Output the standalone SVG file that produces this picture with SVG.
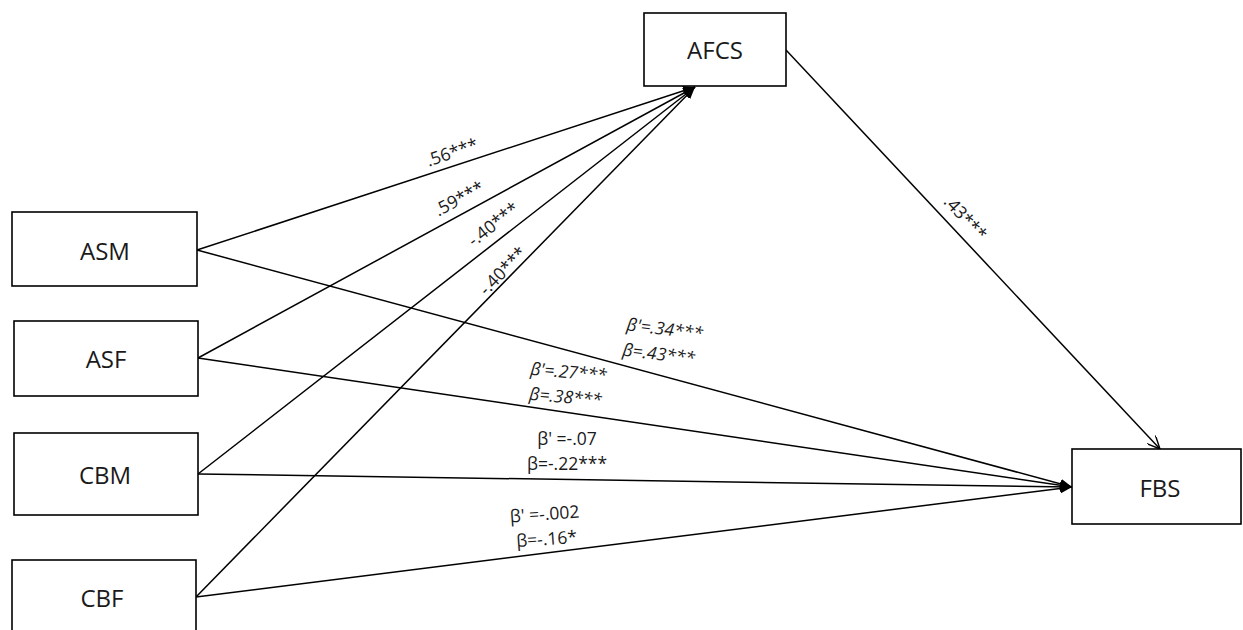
<svg xmlns="http://www.w3.org/2000/svg" width="1243" height="630" viewBox="0 0 1243 630">
<style>
.box{fill:#fff;stroke:#000;stroke-width:1.6}
.lbl{font-family:"Open Sans","Liberation Sans",sans-serif;font-size:24px;fill:#1a1a1a;text-anchor:middle}
.edge{stroke:#000;stroke-width:1.5;fill:none}
.el{font-family:"Open Sans","Liberation Sans",sans-serif;font-size:17.5px;fill:#1a1a1a;text-anchor:middle}
.it{font-style:italic}
</style>
<defs>
<marker id="fa" viewBox="0 0 12 10" refX="12" refY="5" markerWidth="12" markerHeight="10" markerUnits="userSpaceOnUse" orient="auto">
<path d="M0,0 L12,5 L0,10 Z" fill="#000"/>
</marker>
<marker id="oa" viewBox="0 0 14 12" refX="13" refY="6" markerWidth="14" markerHeight="12" markerUnits="userSpaceOnUse" orient="auto">
<path d="M0,0 L13,6 L0,12" fill="none" stroke="#000" stroke-width="1.4"/>
</marker>
</defs>
<rect width="1243" height="630" fill="#fff"/>
<g id="connectors">
<line class="edge" x1="197" y1="250" x2="695" y2="87" marker-end="url(#fa)"/>
<line class="edge" x1="198" y1="358" x2="695" y2="87" marker-end="url(#fa)"/>
<line class="edge" x1="198" y1="474" x2="695" y2="87" marker-end="url(#fa)"/>
<line class="edge" x1="196" y1="597" x2="695" y2="87" marker-end="url(#fa)"/>
<line class="edge" x1="197" y1="250" x2="1072" y2="487" marker-end="url(#fa)"/>
<line class="edge" x1="198" y1="358" x2="1072" y2="487" marker-end="url(#fa)"/>
<line class="edge" x1="198" y1="474" x2="1072" y2="487" marker-end="url(#fa)"/>
<line class="edge" x1="196" y1="597" x2="1072" y2="487" marker-end="url(#fa)"/>
<line class="edge" x1="786" y1="50" x2="1160" y2="449" marker-end="url(#oa)"/>
<text class="el" transform="translate(454,158) rotate(-19)">.56***</text>
<text class="el" transform="translate(462,204) rotate(-28.5)">.59***</text>
<text class="el" transform="translate(497,229) rotate(-38)">-.40***</text>
<text class="el" transform="translate(507,275) rotate(-46)">-.40***</text>
<text class="el" transform="translate(961,222) rotate(47)">.43***</text>
<text class="el it" transform="translate(664,335) rotate(7)">β'=.34***</text>
<text class="el it" transform="translate(658,360) rotate(7)">β=.43***</text>
<text class="el it" transform="translate(568,378) rotate(5)">β'=.27***</text>
<text class="el it" transform="translate(565,403) rotate(5)">β=.38***</text>
<text class="el" x="567" y="445">β' =-.07</text>
<text class="el" x="567" y="470">β=-.22***</text>
<text class="el" transform="translate(545,520) rotate(-4)">β' =-.002</text>
<text class="el" transform="translate(547,545) rotate(-4)">β=-.16*</text>
</g>
<g id="AFCS"><rect class="box" x="644" y="13" width="142" height="73"/><text class="lbl" x="715" y="59">AFCS</text></g>
<g id="ASM"><rect class="box" x="12" y="212" width="185" height="74"/><text class="lbl" x="105" y="260">ASM</text></g>
<g id="ASF"><rect class="box" x="14" y="321" width="184" height="75"/><text class="lbl" x="106" y="368">ASF</text></g>
<g id="CBM"><rect class="box" x="14" y="433" width="184" height="82"/><text class="lbl" x="105" y="484">CBM</text></g>
<g id="CBF"><rect class="box" x="12" y="560" width="184" height="80"/><text class="lbl" x="102" y="607">CBF</text></g>
<g id="FBS"><rect class="box" x="1072" y="449" width="169" height="75"/><text class="lbl" x="1160" y="497">FBS</text></g>
</svg>
